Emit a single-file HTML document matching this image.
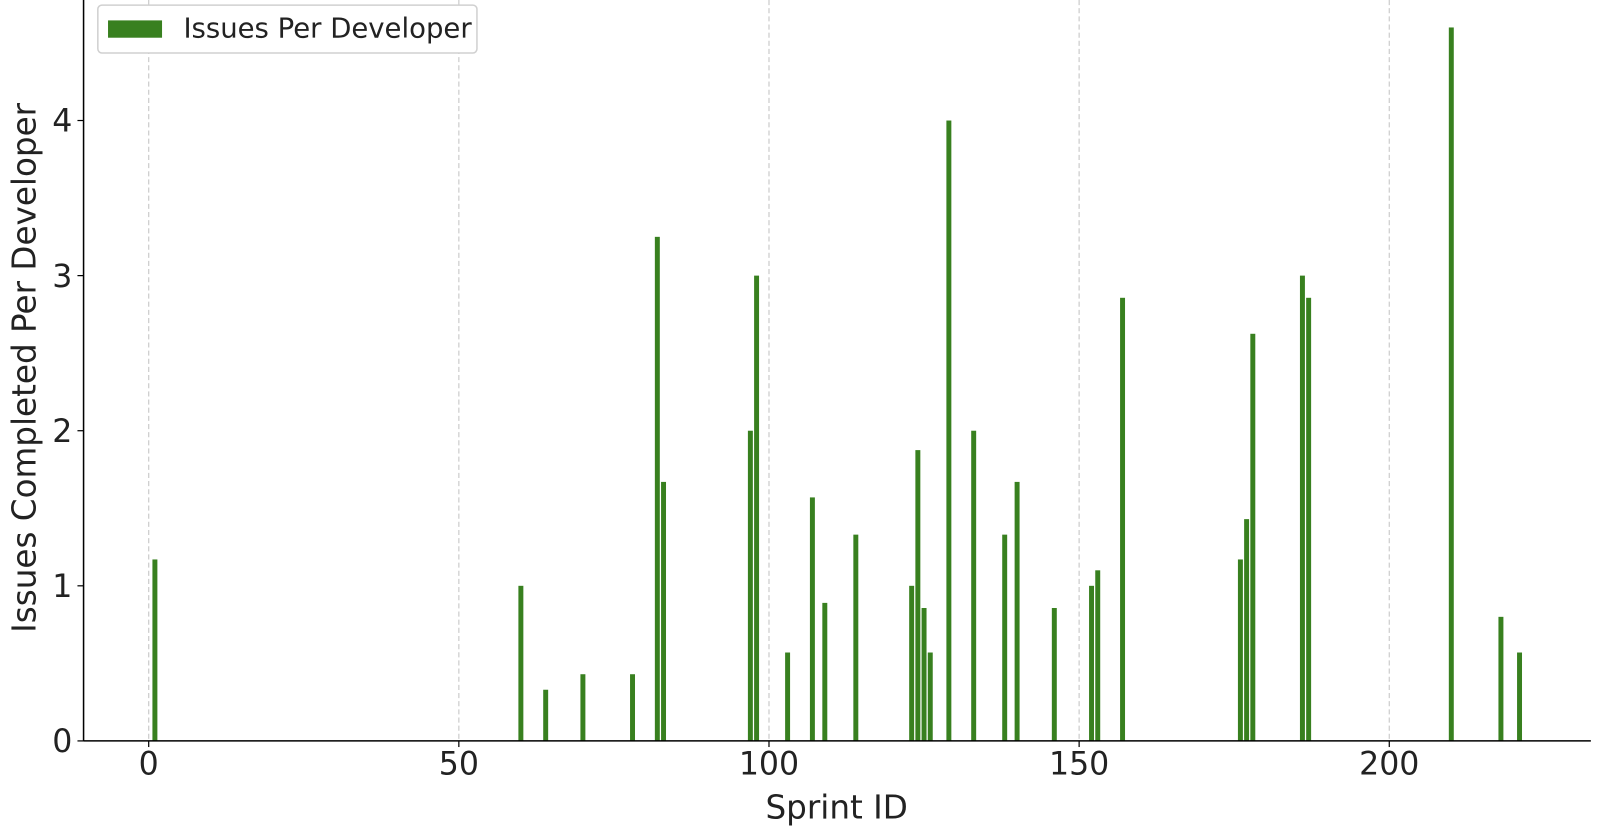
<!DOCTYPE html>
<html><head><meta charset="utf-8"><style>
html,body{margin:0;padding:0;background:#fff;}
svg{display:block;font-family:"DejaVu Sans","Liberation Sans",sans-serif;}
</style></head><body>
<svg id="chart" width="1598" height="830" viewBox="0 0 1568 814.4"></svg>
<script>
const sprintIds=[1,60,64,70,78,82,83,97,98,103,107,109,114,123,124,125,126,129,133,138,140,146,152,153,157,176,177,178,186,187,210,218,221];
const issuesPerDev=[1.17,1.0,0.33,0.43,0.43,3.25,1.67,2.0,3.0,0.57,1.57,0.89,1.33,1.0,1.875,0.857,0.57,4.0,2.0,1.33,1.67,0.857,1.0,1.1,2.857,1.17,1.43,2.625,3.0,2.857,4.6,0.8,0.57];
const xTicks=[0,50,100,150,200];
const yTicks=[0,1,2,3,4];
const NS="http://www.w3.org/2000/svg";
const svg=document.getElementById('chart');
const L=82,R=1561,B=727,T=0;
const xMin=-10.5,xMax=232.5,yMin=0,yMax=4.777;
const xs=v=>L+(v-xMin)/(xMax-xMin)*(R-L);
const ys=v=>B-(v-yMin)/(yMax-yMin)*(B-T);
function mk(tag,attrs,parent){const e=document.createElementNS(NS,tag);for(const k in attrs)e.setAttribute(k,attrs[k]);(parent||svg).appendChild(e);return e;}
const grid=mk('g',{});


xTicks.forEach(t=>{const l=mk('line',{x1:xs(t),x2:xs(t),y1:T,y2:B,stroke:'#cccccc','stroke-width':1.2,'stroke-dasharray':'5,3'},grid);

});
const bars=mk('g',{});


const bw=0.8;
sprintIds.forEach((s,i)=>{const x0=xs(s-bw/2),x1=xs(s+bw/2);const r=mk('rect',{x:x0,y:ys(issuesPerDev[i]),width:x1-x0,height:ys(0)-ys(issuesPerDev[i]),fill:'#38801f'},bars);

});
const ax=mk('g',{});


mk('line',{x1:L,x2:L,y1:T,y2:B,stroke:'#000','stroke-width':1.5},ax);
mk('line',{x1:L,x2:R,y1:B,y2:B,stroke:'#000','stroke-width':1.5},ax);
xTicks.forEach(t=>{mk('line',{x1:xs(t),x2:xs(t),y1:B,y2:B+6,stroke:'#000','stroke-width':1.2},ax);
const tx=mk('text',{x:xs(t),y:B+33,'text-anchor':'middle','font-size':31,fill:'#222'},ax);tx.textContent=t;

});
yTicks.forEach(t=>{mk('line',{x1:L-6,x2:L,y1:ys(t),y2:ys(t),stroke:'#000','stroke-width':1.2},ax);
const tx=mk('text',{x:L-11,y:ys(t)+11,'text-anchor':'end','font-size':31,fill:'#222'},ax);tx.textContent=t;

});
const xt=mk('text',{x:821,y:803,'text-anchor':'middle','font-size':32,fill:'#222'});xt.textContent='Sprint ID';


const yt=mk('text',{transform:'translate(35,361) rotate(-90)','text-anchor':'middle','font-size':32,fill:'#222'});yt.textContent='Issues Completed Per Developer';


const lg=mk('g',{});


mk('rect',{x:96,y:5,width:372,height:47,rx:4,fill:'#fff',stroke:'#d0d0d0','stroke-width':1.5},lg);
mk('rect',{x:106,y:20,width:53,height:17,fill:'#38801f'},lg);
const lt=mk('text',{x:180,y:37,'font-size':27,fill:'#222'},lg);lt.textContent='Issues Per Developer';


</script>
</body></html>
